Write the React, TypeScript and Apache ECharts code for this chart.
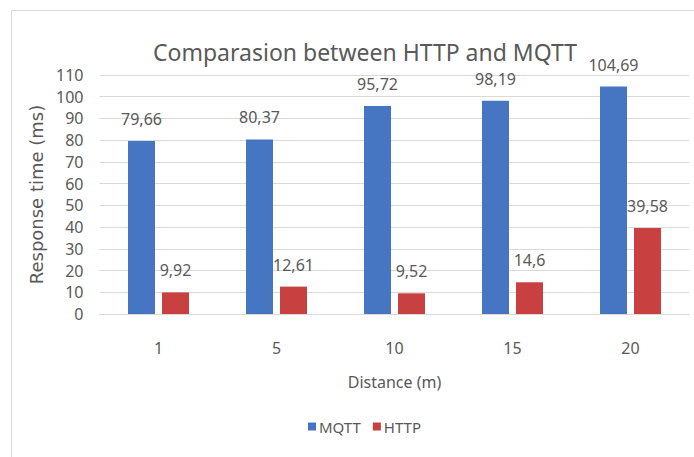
import React, { useEffect, useRef } from "react";
import * as echarts from "echarts";

const categories = ["1", "5", "10", "15", "20"];
const mqttValues = [79.66, 80.37, 95.72, 98.19, 104.69];
const httpValues = [9.92, 12.61, 9.52, 14.6, 39.58];
const seriesNames = ["MQTT", "HTTP"];
const titleText = "Comparasion between HTTP and MQTT";
const yAxisName = "Response time (ms)";
const xAxisName = "Distance (m)";

const FONT = "'Noto Sans', sans-serif";
const GRAY = "#595959";

export default function App() {
  const ref = useRef<HTMLDivElement>(null);
  useEffect(() => {
    if (!ref.current) return;
    const chart = echarts.init(ref.current, undefined, { renderer: "svg" });
    const fmt = (p: any) => String(p.value).replace(".", ",");
    chart.setOption({
      animation: false,
      backgroundColor: "#ffffff",
      title: {
        text: titleText,
        left: 360,
        top: 35,
        textAlign: "center",
        textStyle: { fontFamily: FONT, fontSize: 23, fontWeight: "normal", color: GRAY },
      },
      graphic: [
        {
          type: "rect",
          shape: { x: 11.5, y: 10.5, width: 720, height: 480 },
          style: { fill: "none", stroke: "#d9d9d9", lineWidth: 1 },
          z: -1,
          silent: true,
        },
      ],
      legend: {
        data: seriesNames,
        left: 303,
        top: 414,
        icon: "rect",
        itemWidth: 8,
        itemHeight: 8,
        itemGap: 12,
        textStyle: { fontFamily: FONT, fontSize: 15, color: GRAY, padding: [0, 0, 0, -2] },
      },
      grid: { left: 99.5, right: 4.5, top: 75, bottom: 143, containLabel: false },
      xAxis: {
        type: "category",
        data: categories,
        name: xAxisName,
        nameLocation: "middle",
        nameGap: 60,
        nameTextStyle: { fontFamily: FONT, fontSize: 16, color: GRAY },
        axisLine: { lineStyle: { color: "#d9d9d9" } },
        axisTick: { show: false },
        axisLabel: { fontFamily: FONT, fontSize: 16, color: GRAY, margin: 26 },
      },
      yAxis: {
        type: "value",
        min: 0,
        max: 110,
        interval: 10,
        name: yAxisName,
        nameLocation: "middle",
        nameGap: 50,
        nameTextStyle: { fontFamily: "'DejaVu Sans', sans-serif", fontSize: 18, color: GRAY },
        axisLine: { show: false },
        axisTick: { show: false },
        splitLine: { lineStyle: { color: "#d9d9d9" } },
        axisLabel: { fontFamily: FONT, fontSize: 16, color: GRAY, margin: 16 },
      },
      series: [
        {
          name: seriesNames[0],
          type: "bar",
          data: mqttValues,
          barWidth: 27,
          barGap: "26%",
          itemStyle: { color: "#4676C2" },
          label: { show: true, position: "top", distance: 14, formatter: fmt, fontFamily: FONT, fontSize: 16, color: GRAY },
        },
        {
          name: seriesNames[1],
          type: "bar",
          data: httpValues,
          barWidth: 27,
          barGap: "26%",
          itemStyle: { color: "#C8403F" },
          label: { show: true, position: "top", distance: 14, formatter: fmt, fontFamily: FONT, fontSize: 16, color: GRAY },
        },
      ],
    });
    return () => chart.dispose();
  }, []);
  return (
    <div
      ref={ref}
      style={{ position: "fixed", left: 0, top: 0, width: 694, height: 457, background: "#fff" }}
    />
  );
}
